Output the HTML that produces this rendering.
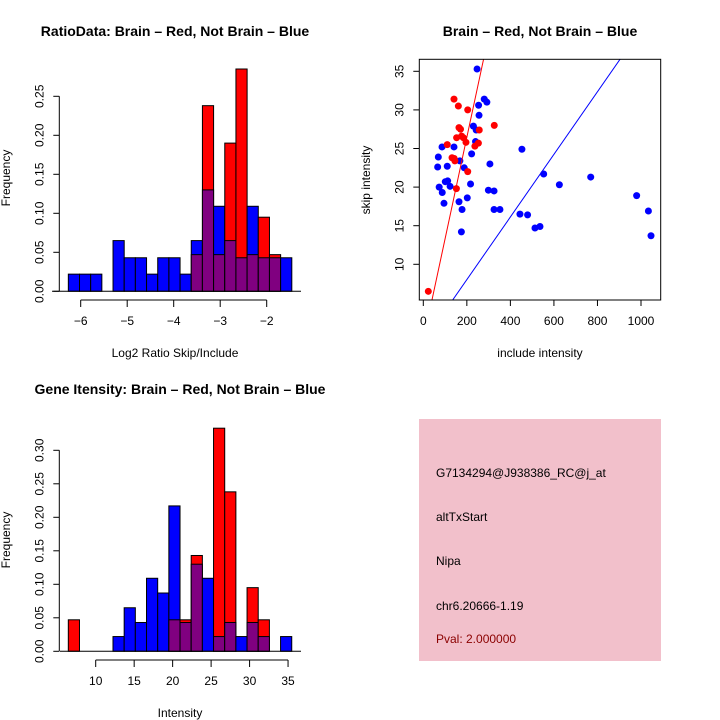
<!DOCTYPE html>
<html><head><meta charset="utf-8"><style>
body{margin:0;background:#fff;}
svg{display:block;font-family:"Liberation Sans",sans-serif;}
</style></head><body>
<svg id="c" width="720" height="720" viewBox="0 0 720 720">
<rect width="720" height="720" fill="#fff"/>
</svg>
<script>
// ---- Data: top-left ratio histogram ----
const ratioStart = -6.266;
const ratioBinWidth = 0.2403;
const ratioBlue = [0.022,0.022,0.022,0,0.065,0.043,0.043,0.022,0.043,0.043,0.022,0.065,0.13,0.109,0.065,0.043,0.109,0.043,0.043,0.043];
const ratioRed  = [0,0,0,0,0,0,0,0,0,0,0,0.047,0.238,0.047,0.19,0.285,0.047,0.095,0.047,0];
const ratioXTicks = [-6,-5,-4,-3,-2];
const ratioYTicks = [0,0.05,0.10,0.15,0.20,0.25];
const ratioYLabels = ["0.00","0.05","0.10","0.15","0.20","0.25"];
// ---- Data: bottom-left intensity histogram ----
const intStart = 6.44;
const intBinWidth = 1.452;
const intBlue = [0,0,0,0,0.022,0.065,0.043,0.109,0.087,0.217,0.043,0.13,0.109,0.022,0.043,0.022,0.043,0.022,0,0.022];
const intRed  = [0.047,0,0,0,0,0,0,0,0,0.047,0.047,0.143,0,0.333,0.238,0,0.095,0.047,0,0];
const intXTicks = [10,15,20,25,30,35];
const intYTicks = [0,0.05,0.10,0.15,0.20,0.25,0.30];
const intYLabels = ["0.00","0.05","0.10","0.15","0.20","0.25","0.30"];
// ---- Data: scatter ----
const redX = [23,141,161,204,326,164,171,176,153,184,196,253,257,237,110,132,142,145,152,204];
const redY = [6.5,31.4,30.5,30.0,28.0,27.7,27.5,26.6,26.4,26.4,25.8,25.7,27.4,25.3,25.5,23.8,23.7,23.4,19.8,22.0];
const blueX = [247,280,292,254,256,230,243,240,86,141,69,66,110,168,188,222,306,453,553,625,769,980,1034,1046,73,87,101,112,123,95,164,178,175,202,217,299,325,325,352,444,479,513,536];
const blueY = [35.3,31.4,31.0,30.6,29.3,27.9,27.4,25.9,25.2,25.2,23.9,22.6,22.7,23.4,22.5,24.3,23.0,24.9,21.7,20.3,21.3,18.9,16.9,13.7,20.0,19.3,20.7,20.8,20.1,17.9,18.1,17.1,14.2,18.6,20.4,19.6,19.5,17.1,17.1,16.5,16.4,14.7,14.9];
const redLine = [0.136, 0.1316];   // intercept, slope
const blueLine = [-0.096, 0.04056];
const scXTicks = [0,200,400,600,800,1000];
const scYTicks = [10,15,20,25,30,35];

const NS="http://www.w3.org/2000/svg";
const svg=document.getElementById('c');
function mk(tag,attrs,parent){const e=document.createElementNS(NS,tag);for(const k in attrs)e.setAttribute(k,attrs[k]);(parent||svg).appendChild(e);return e;}
function txt(x,y,s,attrs){const e=mk('text',Object.assign({x:x,y:y,'font-size':12,'text-anchor':'middle',fill:'#000'},attrs||{}));e.textContent=s;return e;}

function hist(g, sx, sy, start, w, blue, red){
  for(let i=0;i<blue.length;i++){
    const x0=sx(start+i*w), x1=sx(start+(i+1)*w);
    const b=blue[i], r=red[i];
    const drawBar=(v,col,nm)=>{ if(v<=0) return;
      const el=mk('rect',{x:x0,y:sy(v),width:x1-x0,height:sy(0)-sy(v),fill:col,stroke:'#000','stroke-width':1},g);
      
      
    };
    if(b>=r){drawBar(b,'#0000ff','bar-blue');drawBar(r,'#800080','bar-overlap');}
    else {drawBar(r,'#ff0000','bar-red');drawBar(b,'#800080','bar-overlap');}
  }
}
function yAxis(g,x,sy,ticks,labels){
  mk('line',{x1:x,x2:x,y1:sy(ticks[0]),y2:sy(ticks[ticks.length-1]),stroke:'#000'},g);
  ticks.forEach((t,i)=>{const y=sy(t);mk('line',{x1:x-6,x2:x,y1:y,y2:y,stroke:'#000'},g);
    txt(x-20,y+4,labels[i],{transform:`rotate(-90 ${x-20} ${y})`});});
}
function xAxis(g,y,sx,ticks,labels){
  mk('line',{x1:sx(ticks[0]),x2:sx(ticks[ticks.length-1]),y1:y,y2:y,stroke:'#000'},g);
  ticks.forEach((t,i)=>{const x=sx(t);mk('line',{x1:x,x2:x,y1:y,y2:y+7,stroke:'#000'},g);txt(x,y+25,labels[i]);});
}

// Top-left
(function(){
  const g=mk('g',{});
  const sx=v=>80.7+(v+6)*46.5, sy=v=>291.3-v*780;
  hist(g,sx,sy,ratioStart,ratioBinWidth,ratioBlue,ratioRed);
  mk('line',{x1:52,x2:301,y1:291.3,y2:291.3,stroke:'#000'},g);
  yAxis(g,59.3,sy,ratioYTicks,ratioYLabels);
  xAxis(g,300,sx,ratioXTicks,ratioXTicks.map(t=>'\u2212'+Math.abs(t)));
  txt(175,36,'RatioData: Brain \u2013 Red, Not Brain \u2013 Blue',{'font-size':14,'font-weight':'bold',});
  txt(175,357,'Log2 Ratio Skip/Include',{});
  txt(10,178,'Frequency',{transform:'rotate(-90 10 178)',});
})();

// Bottom-left
(function(){
  const g=mk('g',{});
  const sx=v=>95.7+(v-10)*7.694, sy=v=>651.3-v*670;
  hist(g,sx,sy,intStart,intBinWidth,intBlue,intRed);
  mk('line',{x1:60,x2:301,y1:651.3,y2:651.3,stroke:'#000'},g);
  yAxis(g,59.3,sy,intYTicks,intYLabels);
  xAxis(g,660,sx,intXTicks,intXTicks.map(String));
  txt(180,394,'Gene Itensity: Brain \u2013 Red, Not Brain \u2013 Blue',{'font-size':14,'font-weight':'bold',});
  txt(180,717,'Intensity',{});
  txt(10,540,'Frequency',{transform:'rotate(-90 10 540)',});
})();

// Scatter
(function(){
  const g=mk('g',{});
  const sx=v=>423.3+v*0.2177, sy=v=>264.3-(v-10)*7.72;
  const L=419.3,R=660.7,T=59.3,B=300;
  const cp=mk('clipPath',{id:'clp'},g);
  mk('rect',{x:L,y:T,width:R-L,height:B-T},cp);
  const pg=mk('g',{'clip-path':'url(#clp)'},g);
  blueX.forEach((x,i)=>{const c=mk('circle',{cx:sx(x),cy:sy(blueY[i]),r:3.5,fill:'#0000ff'},pg);
    
    });
  redX.forEach((x,i)=>{const c=mk('circle',{cx:sx(x),cy:sy(redY[i]),r:3.5,fill:'#ff0000'},pg);
    
    });
  const ln=(p,col,nm)=>{const x0=-100,x1=1200;const e=mk('line',{x1:sx(x0),y1:sy(p[0]+p[1]*x0),x2:sx(x1),y2:sy(p[0]+p[1]*x1),stroke:col,'stroke-width':1},pg);
    
    };
  ln(redLine,'#ff0000','brain-fit-line');ln(blueLine,'#0000ff','not-brain-fit-line');
  mk('rect',{x:L,y:T,width:R-L,height:B-T,fill:'none',stroke:'#000'},g);
  scXTicks.forEach(t=>{const x=sx(t);mk('line',{x1:x,x2:x,y1:B,y2:B+6,stroke:'#000'},g);txt(x,B+25,String(t));});
  mk('line',{x1:sx(0),x2:sx(1000),y1:B,y2:B,stroke:'#000'},g);
  scYTicks.forEach(t=>{const y=sy(t);mk('line',{x1:L-6,x2:L,y1:y,y2:y,stroke:'#000'},g);txt(L-20,y+4,String(t),{transform:`rotate(-90 ${L-20} ${y})`});});
  txt(540,36,'Brain \u2013 Red, Not Brain \u2013 Blue',{'font-size':14,'font-weight':'bold',});
  txt(540,357,'include intensity',{});
  txt(370,180,'skip intensity',{transform:'rotate(-90 370 180)',});
})();

// Info box
(function(){
  const g=mk('g',{});
  mk('rect',{x:419,y:419,width:242,height:242,fill:'#f2c0cb'},g);
  const lines=[['G7134294@J938386_RC@j_at',477,'#000','probe-id-label'],['altTxStart',521,'#000','event-type-label'],['Nipa',565,'#000','gene-name-label'],['chr6.20666-1.19',610,'#000','location-label'],['Pval: 2.000000',643,'#8b0000','pval-label']];
  lines.forEach(l=>txt(436,l[1],l[0],{'text-anchor':'start',fill:l[2],}));
})();
</script>
</body></html>
